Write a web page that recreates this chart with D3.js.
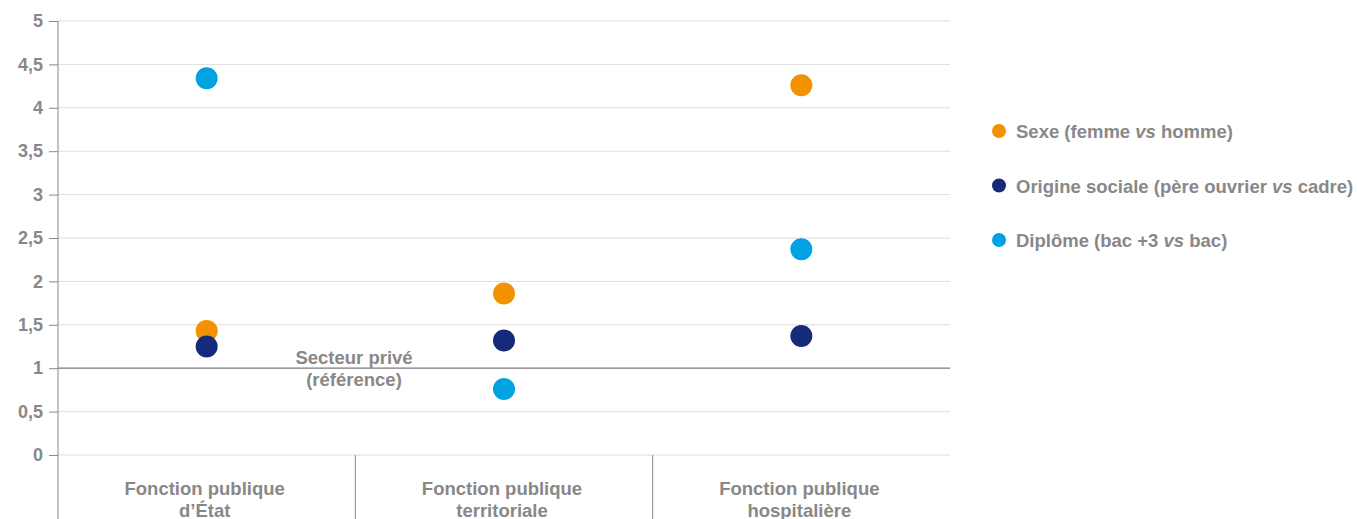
<!DOCTYPE html>
<html>
<head>
<meta charset="utf-8">
<script src="https://cdn.jsdelivr.net/npm/d3@7"></script>
<style>
  html, body { margin: 0; padding: 0; background: #fff; }
  svg { display: block; font-family: "Liberation Sans", Arial, sans-serif; font-weight: bold; }
</style>
</head>
<body>
<svg id="chart" width="1357" height="519"></svg>
<script>
// Categories (public service branches), split over two lines
const categories = ["Fonction publique d’État", "Fonction publique territoriale", "Fonction publique hospitalière"];
const categoryLines = [["Fonction publique", "d’État"], ["Fonction publique", "territoriale"], ["Fonction publique", "hospitalière"]];

// Odds ratios per factor, relative to the private sector (= 1)
const sexe = [1.43, 1.86, 4.26];
const origine = [1.25, 1.32, 1.37];
const diplome = [4.34, 0.76, 2.37];

const yTicks = [0, 0.5, 1, 1.5, 2, 2.5, 3, 3.5, 4, 4.5, 5];

const series = [
  { name: ["Sexe (femme ", "vs", " homme)"], values: sexe, color: "#F39200" },
  { name: ["Origine sociale (père ouvrier ", "vs", " cadre)"], values: origine, color: "#162A7C" },
  { name: ["Diplôme (bac +3 ", "vs", " bac)"], values: diplome, color: "#00A2E2" }
];

const svg = d3.select("#chart");
const plotLeft = 58, plotRight = 950, plotTop = 21, zeroY = 455, plotBottom = 519;
const grey = "#888888";

const y = d3.scaleLinear().domain([0, 5]).range([zeroY, plotTop]);
const x = d3.scaleBand().domain(categories).range([plotLeft, plotRight]);

// Horizontal gridlines
svg.append("g").selectAll("line").data(yTicks.filter(d => d !== 1)).join("line")
  .attr("x1", plotLeft).attr("x2", plotRight)
  .attr("y1", d => y(d)).attr("y2", d => y(d))
  .attr("stroke", "#dedede").attr("stroke-width", 1);

// Y axis
const yAxis = d3.axisLeft(y).tickValues(yTicks).tickSize(9).tickPadding(6)
  .tickFormat(d => String(d).replace(".", ","));
const gy = svg.append("g").attr("transform", `translate(${plotLeft},0)`).call(yAxis);
gy.select(".domain").remove();
gy.selectAll(".tick line").attr("stroke", grey);
gy.selectAll(".tick text").attr("fill", grey).attr("font-size", 18).attr("font-weight", "bold")
  .attr("font-family", "Liberation Sans, Arial, sans-serif");
svg.append("line").attr("x1", plotLeft).attr("x2", plotLeft).attr("y1", plotTop).attr("y2", plotBottom)
  .attr("stroke", grey).attr("stroke-width", 1);

// Reference line at 1 (private sector)
svg.append("line").attr("x1", plotLeft).attr("x2", plotRight).attr("y1", y(1)).attr("y2", y(1))
  .attr("stroke", "#7a7a7a").attr("stroke-width", 1.2);
const refText = svg.append("text").attr("fill", grey).attr("font-size", 18.5).attr("text-anchor", "middle");
refText.append("tspan").attr("x", 354).attr("y", y(1) - 4).text("Secteur privé");
refText.append("tspan").attr("x", 354).attr("y", y(1) + 18).text("(référence)");

// Category separators below zero
svg.append("g").selectAll("line").data(categories.slice(1)).join("line")
  .attr("x1", d => x(d)).attr("x2", d => x(d))
  .attr("y1", zeroY).attr("y2", plotBottom)
  .attr("stroke", grey).attr("stroke-width", 1);

// Category labels
const catG = svg.append("g");
categories.forEach((c, i) => {
  const t = catG.append("text").attr("fill", grey).attr("font-size", 18.5).attr("text-anchor", "middle");
  categoryLines[i].forEach((line, j) => {
    t.append("tspan").attr("x", x(c) + x.bandwidth() / 2 - 2).attr("y", 495 + j * 22).text(line);
  });
});

// Points
series.forEach(s => {
  svg.append("g").selectAll("circle").data(s.values).join("circle")
    .attr("cx", (d, i) => x(categories[i]) + x.bandwidth() / 2)
    .attr("cy", d => y(d))
    .attr("r", 11)
    .attr("fill", s.color);
});

// Legend
const legend = svg.append("g");
series.forEach((s, i) => {
  const ly = 131 + i * 54.5;
  legend.append("circle").attr("cx", 999).attr("cy", ly).attr("r", 7).attr("fill", s.color);
  const t = legend.append("text").attr("x", 1016).attr("y", ly + 7).attr("fill", grey).attr("font-size", 18.5);
  t.append("tspan").text(s.name[0]);
  t.append("tspan").attr("font-style", "italic").text(s.name[1]);
  t.append("tspan").text(s.name[2]);
});
</script>
</body>
</html>
